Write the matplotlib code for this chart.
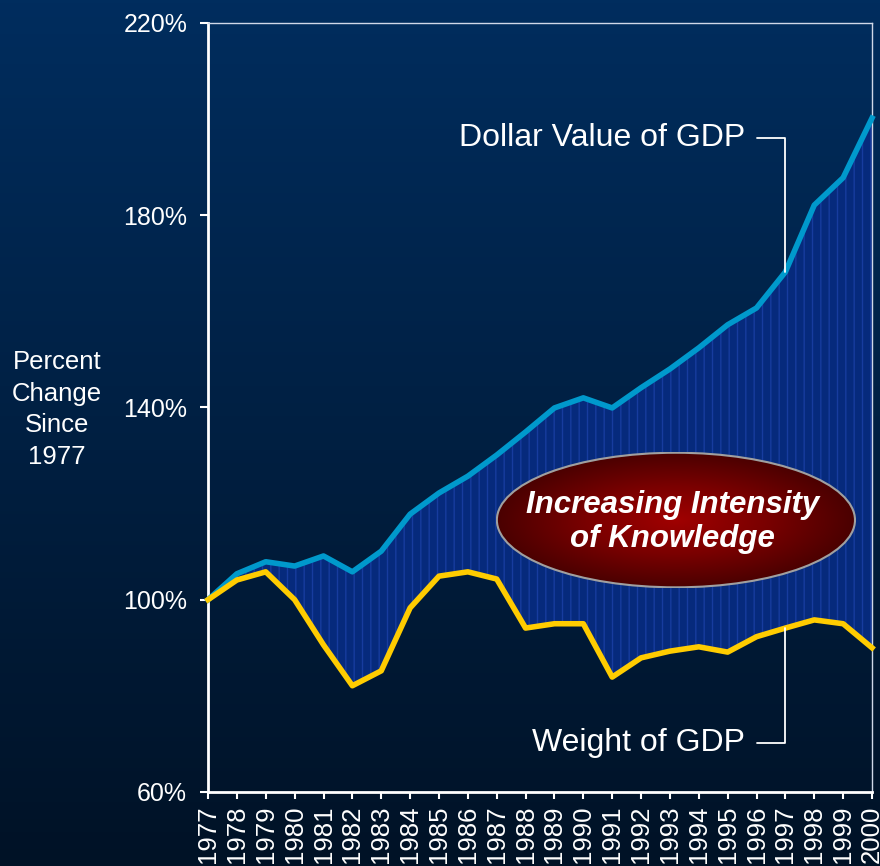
import numpy as np
import matplotlib
matplotlib.use("Agg")
import matplotlib.pyplot as plt
from matplotlib.colors import LinearSegmentedColormap
from matplotlib.patches import Ellipse

plt.rcParams['font.family'] = ['Liberation Sans', 'DejaVu Sans']
plt.rcParams['hatch.linewidth'] = 1.0

# data (percent of 1977 level)
years = list(range(1977, 2001))
dollar_value = [100, 105.4, 107.9, 107.0, 109.1, 105.8, 110.1, 117.8, 122.2, 125.7,
                130.1, 134.9, 139.9, 142.0, 139.9, 144.1, 148.0, 152.4, 157.2, 160.7,
                168.2, 182.1, 187.8, 200.2]
weight = [100, 104.1, 105.8, 100.0, 90.6, 82.1, 85.2, 98.3, 104.9, 105.8,
          104.3, 94.1, 95.0, 95.0, 83.9, 87.9, 89.3, 90.2, 89.1, 92.3,
          94.1, 95.8, 95.0, 90.0]
yticks = [60, 100, 140, 180, 220]
ytick_labels = ["60%", "100%", "140%", "180%", "220%"]

fig = plt.figure(figsize=(8.8, 8.66), dpi=100)

# background gradient
bg = fig.add_axes([0, 0, 1, 1], zorder=-10)
bg_cmap = LinearSegmentedColormap.from_list("bg", ["#002d5e", "#001226"])
bg.imshow(np.linspace(0, 1, 256).reshape(-1, 1), cmap=bg_cmap, aspect='auto',
          extent=[0, 1, 0, 1])
bg.axis('off')

ax = fig.add_axes([0.2364, 0.0855, 0.7545, 0.888])
ax.set_facecolor('none')

x = np.array(years)
ax.fill_between(x, weight, dollar_value, facecolor='#062a7c', edgecolor='#173c9e',
                hatch='||', linewidth=0, zorder=1)
ax.plot(x, dollar_value, color='#0099cc', lw=4, zorder=3, clip_on=False)
ax.plot(x, weight, color='#ffcc00', lw=4, zorder=3, clip_on=False)

ax.set_xlim(1977, 2000)
ax.set_ylim(60, 220)
ax.set_xticks(years)
ax.set_xticklabels([str(y) for y in years], rotation=90, fontsize=18.5, color='white')
ax.set_yticks(yticks)
ax.set_yticklabels(ytick_labels, fontsize=18, color='white')
ax.tick_params(axis='y', direction='out', length=6, width=1.5, color='white', pad=9)
ax.tick_params(axis='x', direction='out', length=5, width=1.5, color='white', pad=5)

for side in ['left', 'bottom']:
    ax.spines[side].set_color('white')
    ax.spines[side].set_linewidth(2)
for side in ['top', 'right']:
    ax.spines[side].set_color('#d0d8e8')
    ax.spines[side].set_linewidth(1)

fig.text(0.065, 0.527, "Percent\nChange\nSince\n1977", ha='center', va='center',
         fontsize=18.5, color='white', linespacing=1.4)

# leader-line labels
ax.annotate("Dollar Value of GDP", xy=(1997, dollar_value[20]), xytext=(1995.6, 196.1),
            ha='right', va='center', fontsize=23, color='white', annotation_clip=False,
            arrowprops=dict(arrowstyle='-', color='white', lw=1.3, shrinkA=7, shrinkB=0,
                            relpos=(1, 0.5),
                            connectionstyle="angle,angleA=0,angleB=90,rad=0"))
ax.annotate("Weight of GDP", xy=(1997, weight[20]), xytext=(1995.6, 70.2),
            ha='right', va='center', fontsize=23, color='white', annotation_clip=False,
            arrowprops=dict(arrowstyle='-', color='white', lw=1.3, shrinkA=7, shrinkB=0,
                            relpos=(1, 0.5),
                            connectionstyle="angle,angleA=0,angleB=90,rad=0"))

# red ellipse with radial gradient
eax = fig.add_axes([0.5636, 0.321, 0.409, 0.157], zorder=5)
eax.set_xlim(-1, 1)
eax.set_ylim(-1, 1)
eax.axis('off')
gx, gy = np.meshgrid(np.linspace(-1, 1, 300), np.linspace(-1, 1, 300))
r = np.clip(np.sqrt(gx ** 2 + gy ** 2), 0, 1)
red_cmap = LinearSegmentedColormap.from_list("red", ["#a00000", "#7a0000", "#4a0000"])
im = eax.imshow(r, cmap=red_cmap, extent=[-1, 1, -1, 1], aspect='auto', vmin=0, vmax=1)
clip = Ellipse((0, 0), 1.99, 1.98, transform=eax.transData, facecolor='none')
eax.add_patch(clip)
im.set_clip_path(clip)
eax.add_patch(Ellipse((0, 0), 1.99, 1.98, facecolor='none', edgecolor='#a0a0a0', lw=1.5))
eax.text(-0.02, -0.03, "Increasing Intensity\nof Knowledge", ha='center', va='center',
         fontsize=22.5, color='white', fontweight='bold', fontstyle='italic',
         linespacing=1.2)

fig.savefig("out.png", dpi=100)
